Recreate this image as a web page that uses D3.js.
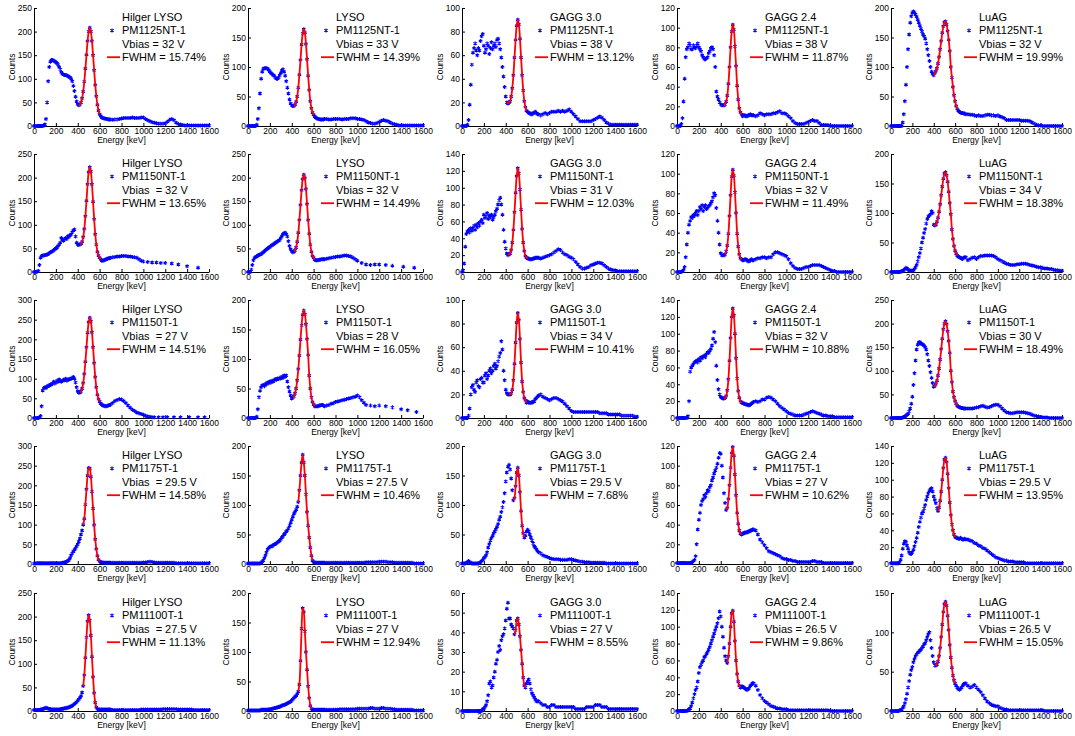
<!DOCTYPE html>
<html>
<head>
<meta charset="utf-8">
<script src="https://cdn.jsdelivr.net/npm/d3@7"></script>
<style>
  body { margin: 0; background: #fff; }
  text { font-family: Arial, "Liberation Sans", sans-serif; }
</style>
</head>
<body>
<script>
// energy bins (keV): 10 keV steps up to 700, 20 keV steps after
const energy = [0,10,20,30,40,50,60,70,80,90,100,110,120,130,140,150,160,170,180,190,
  200,210,220,230,240,250,260,270,280,290,300,310,320,330,340,350,360,370,380,390,
  400,410,420,430,440,450,460,470,480,490,500,510,520,530,540,550,560,570,580,590,
  600,610,620,630,640,650,660,670,680,690,700,
  720,740,760,780,800,820,840,860,880,900,920,940,960,980,
  1000,1020,1040,1060,1080,1100,1120,1140,1160,1180,1200,1220,1240,1260,1280,1300,1320,1340,1360,1380,
  1400,1420,1440,1460,1480,1500,1520,1540,1560,1580,1600];

const crystals = ["Hilger LYSO", "LYSO", "GAGG 3.0", "GAGG 2.4", "LuAG"];
const sipms = ["PM1125NT-1", "PM1150NT-1", "PM1150T-1", "PM1175T-1", "PM11100T-1"];
const vbias = [
  ["32", "33", "38", "38", "32"],
  ["32", "32", "31", "32", "34"],
  ["27", "28", "34", "32", "30"],
  ["29.5", "27.5", "29.5", "27", "29.5"],
  ["27.5", "27", "27", "26.5", "26.5"]];
const fwhm = [
  [15.74, 14.39, 13.12, 11.87, 19.99],
  [13.65, 14.49, 12.03, 11.49, 18.38],
  [14.51, 16.05, 10.41, 10.88, 18.49],
  [14.58, 10.46, 7.68, 10.62, 13.95],
  [11.13, 12.94, 8.55, 9.86, 15.05]];
const yMax = [
  [250, 200, 100, 120, 200],
  [250, 250, 140, 120, 200],
  [300, 200, 100, 140, 250],
  [300, 200, 200, 120, 140],
  [250, 200, 60, 140, 150]];
const yStep = [
  [50, 50, 20, 20, 50],
  [50, 50, 20, 20, 50],
  [50, 50, 20, 20, 50],
  [50, 50, 50, 20, 20],
  [50, 50, 10, 20, 50]];
// energy window of the photopeak fit
const fitRanges = [
  [[410,600],[420,600],[410,590],[430,590],[400,620]],
  [[420,610],[420,610],[420,600],[440,590],[400,620]],
  [[420,600],[410,610],[430,590],[430,590],[400,620]],
  [[450,600],[460,590],[470,570],[450,590],[440,600]],
  [[450,570],[460,580],[480,580],[460,580],[410,600]]];

// counts per bin (null = no bin there)
const hilger1125 = [
  0,0,0,0,0,0,0,0,0,1, 3,15,50,95,125,136,140,140,138,137,
  135,133,130,125,120,114,110,109,108,108, 107,106,104,103,100,95,85,74,62,52,
  46,44,46,50,59,73,94,122,151,180, 200,208,200,180,150,118,87,63,45,33,
  25,21,18,17,16,16,15,15,14,14, 14,
  13,14,14,15, 16,17,17,17,17,18,17,17,17,18, 18,15,12,10,8,7,6,5,5,5,
  6,9,13,15,12,7,4,3,2,1, 1,1,1,1,1,1,1,1,1,1, 1];
const lyso1125 = [
  0,0,0,0,0,0,0,0,2,12, 30,55,80,92,97,98,98,98,97,95,
  92,90,88,86,85,82,80,80,82,86, 90,94,96,92,85,76,65,55,45,38,
  35,34,34,36,41,50,65,87,112,138, 157,164,158,139,113,85,61,42,30,23,
  19,16,14,13,12,12,11,11,11,11, 12,
  12,11,11,12, 12,12,12,11,12,12,12,13,13,13, 12,12,11,10,8,6,5,4,4,5,
  7,9,10,9,8,6,4,3,2,1, 1,1,1,1,1,1,1,1,1,1, 1];
const gagg30_1125 = [
  0,0,0,0,0,1,5,18,35,52, 62,66,70,64,60,66,64,72,76,78,
  68,62,65,70,68,61,66,71,65,68, 70,67,73,74,70,65,58,50,42,33,
  25,20,19,20,21,25,32,43,58,73, 85,90,86,74,58,43,30,21,16,13,
  12,11,11,10,10,11,11,12,11,10, 10,
  9,10,11,10, 11,12,12,12,13,12,13,12,13,14, 12,10,8,6,4,4,4,4,4,4,
  5,6,7,8,7,5,3,2,1,1, 1,1,1,1,1,1,1,1,1,1, 1];
const gagg24_1125 = [
  0,0,0,0,2,8,25,48,70,78, 80,84,82,78,78,82,80,79,82,84,
  80,78,76,72,70,68,68,69,70,74, 76,79,80,78,72,60,35,30,27,24,
  22,21,21,21,22,25,31,43,60,80, 96,103,98,81,61,41,27,18,14,12,
  10,11,11,10,10,11,11,12,11,11, 11,
  10,11,13,12, 11,12,12,12,13,13,14,15,13,13, 12,10,8,5,3,2,2,2,2,3,
  4,5,6,5,5,3,1,1,1,1, 0,0,0,0,0,0,0,0,0,0, 0];
const luag1125 = [
  0,0,0,0,0,0,0,0,0,0, 0,6,20,42,70,100,130,155,175,186,
  192,194,192,189,185,180,175,170,165,160, 155,152,148,140,130,120,110,100,92,88,
  86,90,93,98,106,117,130,144,158,169, 176,177,172,161,146,127,100,82,66,52,
  42,34,29,26,24,23,22,22,21,21, 20,
  20,19,19,18, 17,18,17,17,18,19,19,18,18,17, 18,16,15,13,10,10,10,10,10,10,
  10,9,9,9,9,8,6,4,2,1, 1,0,0,0,0,0,0,0,0,0, 0];

const hilger1150nt = [
  0,0,0,1,2,15,30,34,35,35, 36,36,37,38,40,42,43,44,46,48,
  50,52,55,58,62,72,68,66,70,72, 70,76,74,78,80,84,88,90,75,62,
  58,57,59,60,64,74,91,118,151,186, 212,222,213,186,149,112,80,58,43,35,
  30,27,24,24,25,26,27,28,29,29, 30,
  31,32,33,33, 34,34,34,33,33,32,31,30,27,24, 22,null,21,null,20,null,20,null,19,null,
  19,null,null,18,null,null,16,null,null,null, 12,null,null,null,null,9,null,null,null,null, null];
const lyso1150nt = [
  0,0,0,5,15,25,30,32,33,35, 36,37,38,40,42,44,46,48,50,52,
  53,55,57,58,60,62,63,65,66,68, 72,76,80,82,83,80,75,65,55,48,
  44,42,43,46,52,64,83,110,142,173, 197,206,199,176,144,110,81,58,43,34,
  30,26,25,25,25,26,26,27,27,27, 27,
  28,29,30,31, 32,33,33,34,35,35,34,33,30,27, 24,null,19,null,16,null,15,null,16,null,
  16,null,null,15,null,null,13,null,null,null, null,11,null,null,null,null,9,null,null,null, null];
const gagg30_1150nt = [
  0,2,10,30,45,48,50,47,52,49, 52,55,50,56,53,58,55,60,62,58,
  68,64,66,70,63,67,65,68,62,65, 68,72,75,80,85,88,80,68,50,36,
  28,22,20,21,22,26,35,50,71,94, 114,123,117,98,74,51,35,25,19,17,
  16,16,15,15,15,16,16,17,17,17, 17,
  16,17,18,19, 20,21,23,25,27,26,23,21,20,18, 17,15,12,9,6,4,4,5,6,8,
  9,10,11,11,10,8,6,4,3,2, 2,1,1,1,1,1,1,1,1,1, 1];
const gagg24_1150nt = [
  0,0,0,0,0,1,2,5,15,28, 40,48,52,56,55,58,57,60,62,58,
  62,66,64,68,62,66,68,64,65,67, 68,70,72,76,80,78,65,52,40,28,
  19,17,17,17,18,21,27,39,57,78, 97,104,98,81,60,39,26,18,14,13,
  12,12,13,13,12,11,11,12,13,12, 12,
  13,14,14,15, 15,14,15,15,18,20,20,19,18,17, 16,13,9,6,4,3,3,3,4,5,
  5,6,7,7,7,7,6,5,4,3, 2,1,1,0,0,0,0,0,0,0, 0];
const luag1150nt = [
  0,0,0,0,0,0,0,0,0,1, 1,2,3,5,7,6,4,3,2,2,
  2,3,5,8,12,18,25,32,40,50, 58,66,73,82,90,94,96,98,103,100,
  80,79,80,85,92,102,115,130,145,158, 167,169,164,153,136,117,98,72,56,44,
  36,31,28,26,25,24,23,22,24,25, 25,
  20,22,24,25, 22,25,27,27,28,28,28,28,27,25, 22,20,18,16,14,13,12,12,12,13,
  13,14,14,14,13,12,11,10,9,8, 8,7,6,6,5,5,4,3,3,2, 2];

const hilger1150t = [
  0,0,0,0,0,2,5,30,70,76, 78,76,80,82,82,85,85,88,92,88,
  90,95,92,98,95,92,94,97,96,100, 95,98,98,100,100,102,104,100,90,78,
  68,64,65,68,75,89,112,143,180,217, 244,255,246,218,180,140,104,78,59,48,
  42,37,34,32,31,30,30,31,32,33, 34,
  38,43,46,48, 47,43,38,32,26,21,18,14,12,10, 8,6,4,3,2,2,null,2,null,2,
  null,2,null,null,2,null,null,2,null,null, null,2,null,null,null,2,null,null,2,null, null];
const lyso1150t = [
  0,0,0,0,0,0,0,0,2,15, 35,46,52,55,56,54,58,57,60,59,
  62,60,63,62,64,66,65,67,66,68, 67,70,68,72,70,72,62,52,45,38,
  33,35,37,42,50,64,83,106,133,157, 175,182,176,159,134,107,72,50,35,27,
  23,20,20,20,20,21,21,22,22,21, 20,
  21,22,24,25, 27,28,29,30,31,32,33,34,35,36, 38,35,30,26,22,null,21,null,20,null,
  21,null,null,20,null,null,18,null,null,null, 15,null,null,13,null,null,null,10,null,null, null];
const gagg30_1150t = [
  0,0,0,0,0,0,2,8,20,26, 28,24,22,30,32,27,26,33,34,30,
  30,36,38,33,36,40,42,38,40,44, 46,42,44,48,52,55,65,58,40,32,
  24,21,20,20,20,21,24,32,46,64, 81,89,83,67,47,31,22,17,15,13,
  14,13,13,13,13,14,14,16,17,18, 19,
  20,18,17,16, 15,16,17,17,16,15,14,12,10,8, 6,5,5,5,5,5,5,5,5,5,
  5,5,5,4,4,4,4,3,3,3, 3,3,3,2,2,2,2,2,2,1, 1];
const gagg24_1150t = [
  0,0,0,0,0,0,0,0,0,0, 2,20,55,60,62,64,66,67,68,66,
  70,68,72,71,73,74,72,76,78,77, 80,82,86,94,102,90,62,45,34,28,
  25,24,23,23,24,26,33,46,68,95, 120,130,122,100,71,47,32,24,20,18,
  18,17,17,16,16,15,15,16,17,18, 19,
  20,19,20,22, 22,24,25,24,22,20,17,14,12,10, 8,6,5,4,3,3,3,3,4,5,
  6,7,8,7,6,5,4,3,3,2, 2,2,1,1,1,1,1,1,1,1, 1];
const luag1150t = [
  0,0,0,0,0,0,0,0,0,0, 0,1,2,3,5,7,9,14,20,30,
  45,70,95,122,145,155,160,161,158,157, 155,153,150,145,135,122,110,97,85,74,
  66,68,72,79,90,105,124,146,168,188, 200,205,199,184,163,138,100,76,56,44,
  36,30,26,24,23,22,21,21,20,20, 20,
  20,20,20,21, 22,23,25,26,24,22,23,25,27,28, 28,25,20,16,12,11,10,10,11,12,
  12,12,12,11,10,9,7,5,4,3, 2,1,1,1,0,0,0,0,0,0, 0];

const hilger1175t = [
  1,1,2,2,2,2,2,2,2,2, 2,2,2,2,2,2,2,2,2,2,
  2,2,2,2,2,2,3,3,4,5, 6,8,10,15,22,27,32,36,40,45,
  50,57,65,75,85,100,115,151,190,225, 244,243,222,184,141,99,63,38,21,11,
  7,5,4,4,3,3,3,3,3,3, 3,
  3,3,3,3, 3,3,3,3,3,3,3,3,3,3, 4,4,5,6,5,4,3,3,3,3,
  3,3,3,3,3,2,2,2,2,2, 2,2,2,2,2,2,2,2,2,2, 2];
const lyso1175t = [
  1,1,1,1,1,1,1,1,1,1, 1,1,2,4,6,10,15,20,25,27,
  29,30,30,32,33,34,35,37,38,40, 42,45,47,50,52,55,57,60,65,70,
  75,80,85,88,92,97,105,125,150,172, 185,172,150,118,88,65,45,28,14,6,
  3,3,2,2,2,2,2,2,2,2, 2,
  2,2,2,2, 2,2,2,2,2,2,2,2,2,2, 2,2,2,2,3,3,3,3,3,3,
  4,4,4,4,3,3,3,2,2,2, 2,2,2,2,2,2,1,1,1,1, 1];
const gagg30_1175t = [
  1,1,1,1,2,3,5,3,2,1, 1,1,1,1,1,1,2,3,5,7,
  10,12,15,20,28,34,40,44,48,52, 55,59,63,68,75,80,88,96,105,120,
  140,155,165,168,160,145,125,108,112,132, 155,163,150,122,90,65,52,45,48,55,
  58,55,50,45,40,35,30,28,25,22, 20,
  18,15,13,12, 10,9,8,8,8,7,7,7,7,8, 8,7,6,5,4,4,3,3,3,2,
  2,2,2,2,2,2,1,1,1,1, 1,1,1,1,1,1,1,1,1,1, 1];
const gagg24_1175t = [
  1,1,1,1,1,1,1,1,1,1, 1,1,1,1,2,3,4,8,20,35,
  45,52,60,64,66,70,68,72,75,74, 78,80,85,88,92,95,98,102,108,113,
  112,100,88,72,62,55,57,66,80,98, 113,119,110,91,70,52,41,34,31,30,
  31,31,32,32,32,33,33,34,34,35, 35,
  34,30,25,22, 19,16,13,12,11,10,9,8,6,5, 5,4,4,3,3,2,2,2,2,2,
  2,2,3,3,2,2,2,1,1,1, 1,1,1,1,1,1,1,1,1,1, 1];
const luag1175t = [
  1,1,1,1,1,1,1,1,2,5, 10,18,24,27,26,22,18,14,12,12,
  14,17,21,26,31,37,44,50,55,60, 62,66,70,76,80,84,87,89,90,86,
  80,76,72,66,63,67,75,86,100,114, 124,126,121,107,90,73,58,47,40,35,
  32,31,31,30,30,31,30,29,29,30, 29,
  29,28,27,25, 24,22,21,19,18,16,14,12,10,8, 7,6,5,4,4,3,3,3,2,2,
  2,2,2,1,1,1,1,1,1,1, 1,1,1,1,1,1,1,1,1,1, 1];

const hilger11100t = [
  2,2,2,2,2,2,3,3,4,5, 6,7,6,5,4,4,3,3,3,3,
  3,3,3,3,4,4,5,5,6,6, 7,7,8,9,10,11,13,15,17,19,
  22,25,28,32,39,53,76,113,156,190, 203,192,160,115,72,38,18,8,4,3,
  3,3,3,3,3,3,3,3,3,3, 3,
  2,2,2,2, 2,2,2,2,2,2,2,2,2,3, 3,3,3,3,3,3,3,3,3,4,
  4,4,4,4,4,4,3,3,3,3, 3,3,3,2,2,2,2,2,2,2, 2];
const lyso11100t = [
  1,1,1,1,1,1,1,1,1,1, 1,1,2,2,2,2,2,2,2,3,
  3,3,4,4,5,5,6,6,7,7, 8,9,10,10,11,12,13,14,15,16,
  18,20,22,24,26,29,33,45,85,140, 174,168,135,100,70,42,22,9,4,2,
  2,2,2,2,2,2,2,2,2,2, 2,
  2,2,2,2, 2,2,3,3,3,3,3,3,3,3, 4,4,4,4,4,4,5,5,4,4,
  4,5,5,4,4,4,3,3,2,2, 2,2,2,2,2,2,1,1,1,1, 1];
const gagg30_11100t = [
  0,0,0,0,0,0,0,0,0,0, 0,0,0,0,0,0,0,0,0,1,
  1,2,3,5,8,14,15,12,13,17, 20,24,26,30,33,31,36,38,39,42,
  46,52,55,47,47,44,43,42,39,41, 46,47,44,38,31,24,17,13,12,14,
  15,16,14,11,9,8,7,6,5,5, 5,
  4,3,3,2, 2,3,3,2,2,2,2,2,2,2, 2,2,1,1,1,1,1,2,2,2,
  2,3,3,3,2,2,2,1,1,1, 1,1,1,1,1,1,1,1,1,1, 1];
const gagg24_11100t = [
  0,0,0,0,0,0,0,0,0,0, 1,2,3,6,10,15,20,25,28,35,
  45,52,55,58,60,64,65,68,70,73, 76,80,84,88,92,96,100,104,110,118,
  112,100,88,75,65,60,57,65,80,100, 116,119,106,83,60,44,35,30,28,29,
  29,28,27,26,25,26,27,30,31,33, 33,
  30,25,19,15, 12,10,8,6,5,4,3,3,2,2, 2,1,1,1,1,1,1,1,1,1,
  1,1,1,1,1,1,1,1,1,1, 0,0,0,0,0,0,0,0,0,0, 0];
const luag11100t = [
  0,0,0,0,0,0,0,0,1,1, 2,4,6,10,15,22,30,38,46,52,
  56,62,66,70,72,74,75,77,78,80, 82,85,86,90,94,98,100,90,80,70,
  62,58,58,59,63,70,80,94,110,126, 136,139,134,121,103,84,68,55,45,39,
  35,32,30,28,27,28,30,32,34,35, 35,
  32,30,31,33, 30,27,24,20,16,12,10,8,7,6, 6,4,3,2,2,1,1,1,1,1,
  1,1,1,1,1,1,1,1,1,1, 1,1,0,0,0,0,0,0,0,0, 0];

const spectra = [
  [hilger1125, lyso1125, gagg30_1125, gagg24_1125, luag1125],
  [hilger1150nt, lyso1150nt, gagg30_1150nt, gagg24_1150nt, luag1150nt],
  [hilger1150t, lyso1150t, gagg30_1150t, gagg24_1150t, luag1150t],
  [hilger1175t, lyso1175t, gagg30_1175t, gagg24_1175t, luag1175t],
  [hilger11100t, lyso11100t, gagg30_11100t, gagg24_11100t, luag11100t]];

const xTicks = [0,200,400,600,800,1000,1200,1400,1600];

const colLeft = [34, 248, 462, 677, 891];
const colWidth = [175, 175, 175, 175, 171];
const rowTop = [8, 154, 300, 446, 593];
const plotH = 118;

const svg = d3.select("body")
  .append("svg")
  .attr("width", 1075)
  .attr("height", 736)
  .style("background", "#fff");

const star = d3.symbol().type(d3.symbolAsterisk).size(11);

spectra.forEach((row, r) => {
  row.forEach((counts, c) => {
    const left = colLeft[c], top = rowTop[r], plotW = colWidth[c];

    const xScale = d3.scaleLinear().domain([0, 1600]).range([0, plotW]);
    const yScale = d3.scaleLinear().domain([0, yMax[r][c]]).range([plotH, 0]);

    const g = svg.append("g")
      .attr("transform", `translate(${left}, ${top})`);

    const yTicks = d3.range(0, yMax[r][c] + 1, yStep[r][c]);

    g.append("g")
      .attr("class", "axis x")
      .attr("transform", `translate(0, ${plotH})`)
      .call(d3.axisBottom(xScale).tickValues(xTicks).tickFormat(d3.format("d"))
        .tickSizeInner(-3).tickSizeOuter(0).tickPadding(2))
      .call(a => a.selectAll("text").attr("font-size", 8.5).attr("font-family", "Arial, Liberation Sans, sans-serif"));

    g.append("g")
      .attr("class", "axis y")
      .call(d3.axisLeft(yScale).tickValues(yTicks).tickFormat(d3.format("d"))
        .tickSizeInner(-3).tickSizeOuter(0).tickPadding(2))
      .call(a => a.selectAll("text").attr("font-size", 8.5).attr("font-family", "Arial, Liberation Sans, sans-serif"));

    g.selectAll(".axis path, .axis line").attr("stroke", "#000");

    g.append("text")
      .attr("x", plotW / 2)
      .attr("y", plotH + 14)
      .attr("text-anchor", "middle")
      .attr("dominant-baseline", "central")
      .attr("font-size", 8.5)
      .text("Energy [keV]");

    g.append("text")
      .attr("transform", `translate(-22, ${plotH / 2}) rotate(-90)`)
      .attr("text-anchor", "middle")
      .attr("dominant-baseline", "central")
      .attr("font-size", 8.5)
      .text("Counts");

    const pts = energy.map((e, i) => ({ e: e, n: counts[i] })).filter(d => d.n != null);

    g.append("g")
      .selectAll("path")
      .data(pts)
      .join("path")
      .attr("d", star)
      .attr("transform", d => `translate(${xScale(d.e)}, ${yScale(d.n)})`)
      .attr("fill", "none")
      .attr("stroke", "#0000ff")
      .attr("stroke-width", 1.1);

    const [lo, hi] = fitRanges[r][c];
    const fitLine = d3.line()
      .curve(d3.curveCatmullRom)
      .x(d => xScale(d.e))
      .y(d => yScale(d.n));

    g.append("path")
      .datum(pts.filter(d => d.e >= lo && d.e <= hi))
      .attr("fill", "none")
      .attr("stroke", "#ff0000")
      .attr("stroke-width", 1.8)
      .attr("d", fitLine);

    // legend block
    const vLabel = (c === 0 && r > 0 ? "Vbias  = " : "Vbias = ") + vbias[r][c] + " V";
    const lines = [crystals[c], sipms[r], vLabel, "FWHM = " + fwhm[r][c].toFixed(2) + "%"];
    lines.forEach((t, i) => {
      g.append("text")
        .attr("x", 88)
        .attr("y", 9 + i * 13.4)
        .attr("dominant-baseline", "central")
        .attr("font-size", 11)
        .style("white-space", "pre")
        .text(t);
    });

    g.append("path")
      .attr("d", star)
      .attr("transform", `translate(78, ${9 + 13.4})`)
      .attr("fill", "none")
      .attr("stroke", "#0000ff")
      .attr("stroke-width", 1.1);

    g.append("line")
      .attr("x1", 73).attr("x2", 86)
      .attr("y1", 9 + 3 * 13.4).attr("y2", 9 + 3 * 13.4)
      .attr("stroke", "#ff0000")
      .attr("stroke-width", 1.8);
  });
});
</script>
</body>
</html>
